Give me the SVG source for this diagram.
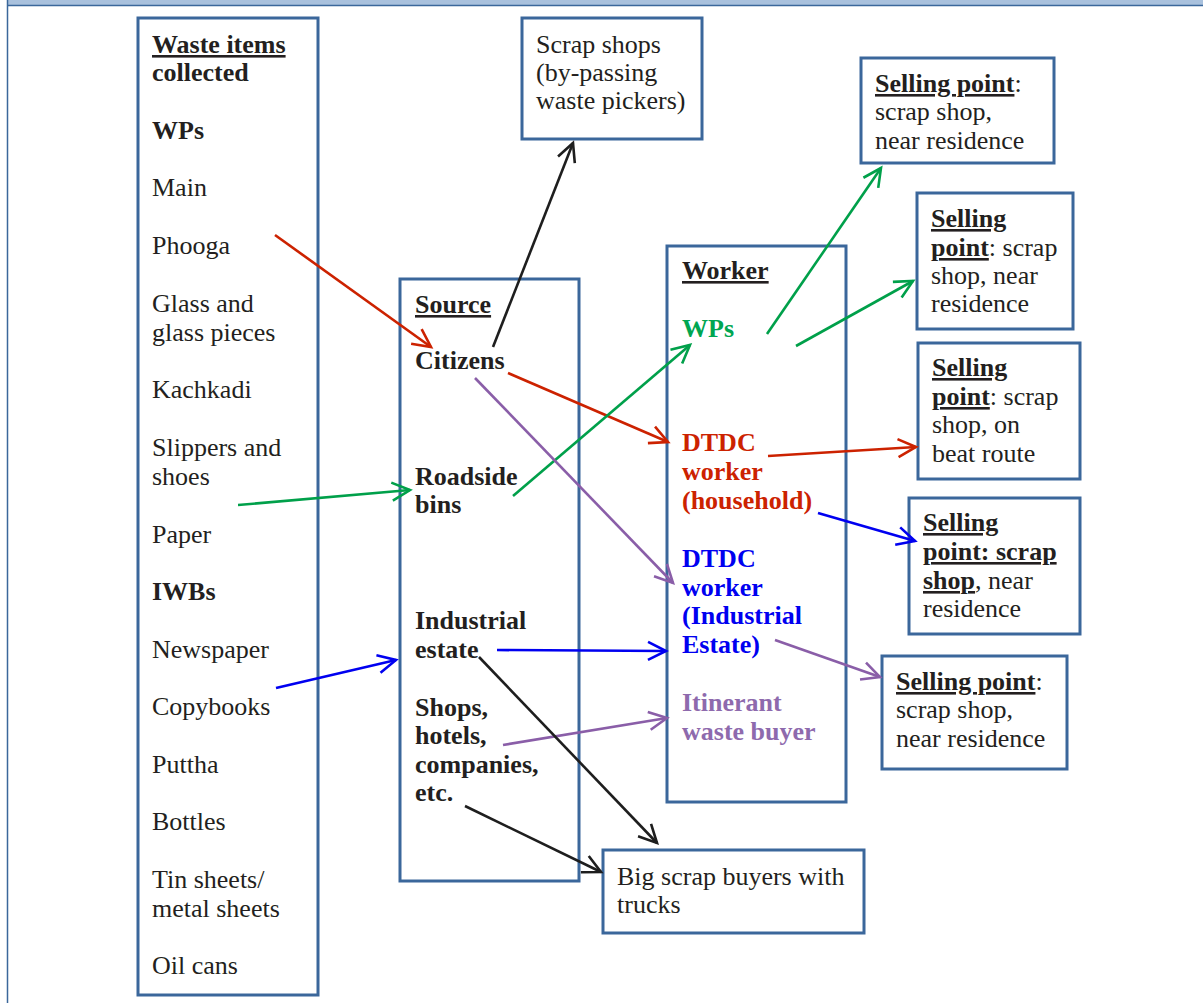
<svg xmlns="http://www.w3.org/2000/svg" width="1203" height="1003" viewBox="0 0 1203 1003">
<style>
.box{fill:#fff;stroke:#3b679b;stroke-width:3}
text{font-family:"Liberation Serif","Times New Roman",serif;font-size:26px;fill:#231f20}
.b{font-weight:bold}
.u{text-decoration:underline}
.ln{fill:none;stroke-width:2.6}
.red{stroke:#cc2200}.grn{stroke:#00a04a}.blu{stroke:#0000f0}.pur{stroke:#8a5ea8}.blk{stroke:#1e1e1e}
</style>
<defs>
<marker id="aR" markerUnits="userSpaceOnUse" markerWidth="26" markerHeight="26" viewBox="-22 -12 26 24" refX="0" refY="0" orient="auto"><path d="M-18,-9 L0,0 L-18,9" fill="none" stroke="#cc2200" stroke-width="2.6"/></marker>
<marker id="aG" markerUnits="userSpaceOnUse" markerWidth="26" markerHeight="26" viewBox="-22 -12 26 24" refX="0" refY="0" orient="auto"><path d="M-18,-9 L0,0 L-18,9" fill="none" stroke="#00a04a" stroke-width="2.6"/></marker>
<marker id="aB" markerUnits="userSpaceOnUse" markerWidth="26" markerHeight="26" viewBox="-22 -12 26 24" refX="0" refY="0" orient="auto"><path d="M-18,-9 L0,0 L-18,9" fill="none" stroke="#0000f0" stroke-width="2.6"/></marker>
<marker id="aP" markerUnits="userSpaceOnUse" markerWidth="26" markerHeight="26" viewBox="-22 -12 26 24" refX="0" refY="0" orient="auto"><path d="M-18,-9 L0,0 L-18,9" fill="none" stroke="#8a5ea8" stroke-width="2.6"/></marker>
<marker id="aK" markerUnits="userSpaceOnUse" markerWidth="26" markerHeight="26" viewBox="-22 -12 26 24" refX="0" refY="0" orient="auto"><path d="M-18,-9 L0,0 L-18,9" fill="none" stroke="#1e1e1e" stroke-width="2.6"/></marker>
</defs>
<rect x="0" y="0" width="1203" height="1003" fill="#fff"/>
<rect x="8" y="0" width="1195" height="5" fill="#a9c1dd"/>
<line x1="8" y1="5.5" x2="1203" y2="5.5" stroke="#3b679b" stroke-width="1.5"/>
<line x1="7.5" y1="0" x2="7.5" y2="1003" stroke="#3b679b" stroke-width="1.5"/>

<g id="waste-items">
<rect class="box" x="138" y="18" width="180" height="977"/>
<text x="152" y="53" class="b u">Waste items</text>
<text x="152" y="81" class="b">collected</text>
<text x="152" y="139" class="b">WPs</text>
<text x="152" y="196">Main</text>
<text x="152" y="254">Phooga</text>
<text x="152" y="312">Glass and</text>
<text x="152" y="341">glass pieces</text>
<text x="152" y="398">Kachkadi</text>
<text x="152" y="456">Slippers and</text>
<text x="152" y="485">shoes</text>
<text x="152" y="543">Paper</text>
<text x="152" y="600" class="b">IWBs</text>
<text x="152" y="658">Newspaper</text>
<text x="152" y="715">Copybooks</text>
<text x="152" y="773">Puttha</text>
<text x="152" y="830">Bottles</text>
<text x="152" y="888">Tin sheets/</text>
<text x="152" y="917">metal sheets</text>
<text x="152" y="974">Oil cans</text>
</g>

<g id="scrap-shops">
<rect class="box" x="522" y="18" width="180" height="121"/>
<text x="536" y="53">Scrap shops</text>
<text x="536" y="81">(by-passing</text>
<text x="536" y="109">waste pickers)</text>
</g>

<g id="source">
<rect class="box" x="400" y="279" width="179" height="602"/>
<text x="415" y="313" class="b u">Source</text>
<text x="415" y="369" class="b">Citizens</text>
<text x="415" y="485" class="b">Roadside</text>
<text x="415" y="513" class="b">bins</text>
<text x="415" y="629" class="b">Industrial</text>
<text x="415" y="658" class="b">estate</text>
<text x="415" y="716" class="b">Shops,</text>
<text x="415" y="744" class="b">hotels,</text>
<text x="415" y="773" class="b">companies,</text>
<text x="415" y="801" class="b">etc.</text>
</g>

<g id="worker">
<rect class="box" x="667" y="246" width="179" height="556"/>
<text x="682" y="279" class="b u">Worker</text>
<text x="682" y="337" class="b" style="fill:#00a651">WPs</text>
<text x="682" y="451" class="b" style="fill:#cc2200">DTDC</text>
<text x="682" y="480" class="b" style="fill:#cc2200">worker</text>
<text x="682" y="509" class="b" style="fill:#cc2200">(household)</text>
<text x="682" y="567" class="b" style="fill:#0000f0">DTDC</text>
<text x="682" y="596" class="b" style="fill:#0000f0">worker</text>
<text x="682" y="624" class="b" style="fill:#0000f0">(Industrial</text>
<text x="682" y="653" class="b" style="fill:#0000f0">Estate)</text>
<text x="682" y="711" class="b" style="fill:#8e6aad">Itinerant</text>
<text x="682" y="740" class="b" style="fill:#8e6aad">waste buyer</text>
</g>

<g id="big-scrap-buyers">
<rect class="box" x="603" y="850" width="261" height="83"/>
<text x="617" y="885">Big scrap buyers with</text>
<text x="617" y="913">trucks</text>
</g>

<g id="selling-point-1">
<rect class="box" x="861" y="58" width="193" height="105"/>
<text x="875" y="92"><tspan class="b u">Selling point</tspan>:</text>
<text x="875" y="120">scrap shop,</text>
<text x="875" y="149">near residence</text>
</g>

<g id="selling-point-2">
<rect class="box" x="917" y="193" width="156" height="136"/>
<text x="931" y="227" class="b u">Selling </text>
<text x="931" y="256"><tspan class="b u">point</tspan>: scrap</text>
<text x="931" y="284">shop, near</text>
<text x="931" y="312">residence</text>
</g>

<g id="selling-point-3">
<rect class="box" x="918" y="343" width="162" height="136"/>
<text x="932" y="376" class="b u">Selling </text>
<text x="932" y="405"><tspan class="b u">point</tspan>: scrap</text>
<text x="932" y="433">shop, on</text>
<text x="932" y="462">beat route</text>
</g>

<g id="selling-point-4">
<rect class="box" x="909" y="498" width="171" height="136"/>
<text x="923" y="531" class="b u">Selling </text>
<text x="923" y="560" class="b u">point: scrap </text>
<text x="923" y="589"><tspan class="b u">shop</tspan>, near</text>
<text x="923" y="617">residence</text>
</g>

<g id="selling-point-5">
<rect class="box" x="882" y="656" width="185" height="113"/>
<text x="896" y="690"><tspan class="b u">Selling point</tspan>:</text>
<text x="896" y="718">scrap shop,</text>
<text x="896" y="747">near residence</text>
</g>

<g id="connectors">
<line class="ln red" x1="275" y1="235" x2="431" y2="347" marker-end="url(#aR)"/>
<line class="ln red" x1="508" y1="373" x2="668" y2="442" marker-end="url(#aR)"/>
<line class="ln red" x1="768" y1="456" x2="916" y2="447" marker-end="url(#aR)"/>
<line class="ln grn" x1="238" y1="505" x2="410" y2="490" marker-end="url(#aG)"/>
<line class="ln grn" x1="513" y1="496" x2="690" y2="345" marker-end="url(#aG)"/>
<line class="ln grn" x1="767" y1="334" x2="881" y2="168" marker-end="url(#aG)"/>
<line class="ln grn" x1="796" y1="346" x2="913" y2="281" marker-end="url(#aG)"/>
<line class="ln blu" x1="276" y1="688" x2="396" y2="660" marker-end="url(#aB)"/>
<line class="ln blu" x1="497" y1="650" x2="666" y2="651" marker-end="url(#aB)"/>
<line class="ln blu" x1="818" y1="513" x2="915" y2="541" marker-end="url(#aB)"/>
<line class="ln pur" x1="475" y1="378" x2="673" y2="583" marker-end="url(#aP)"/>
<line class="ln pur" x1="503" y1="745" x2="667" y2="718" marker-end="url(#aP)"/>
<line class="ln pur" x1="775" y1="640" x2="880" y2="677" marker-end="url(#aP)"/>
<line class="ln blk" x1="493" y1="347" x2="573" y2="143" marker-end="url(#aK)"/>
<line class="ln blk" x1="479" y1="657" x2="657" y2="843" marker-end="url(#aK)"/>
<line class="ln blk" x1="465" y1="806" x2="601" y2="872" marker-end="url(#aK)"/>
</g>
</svg>
